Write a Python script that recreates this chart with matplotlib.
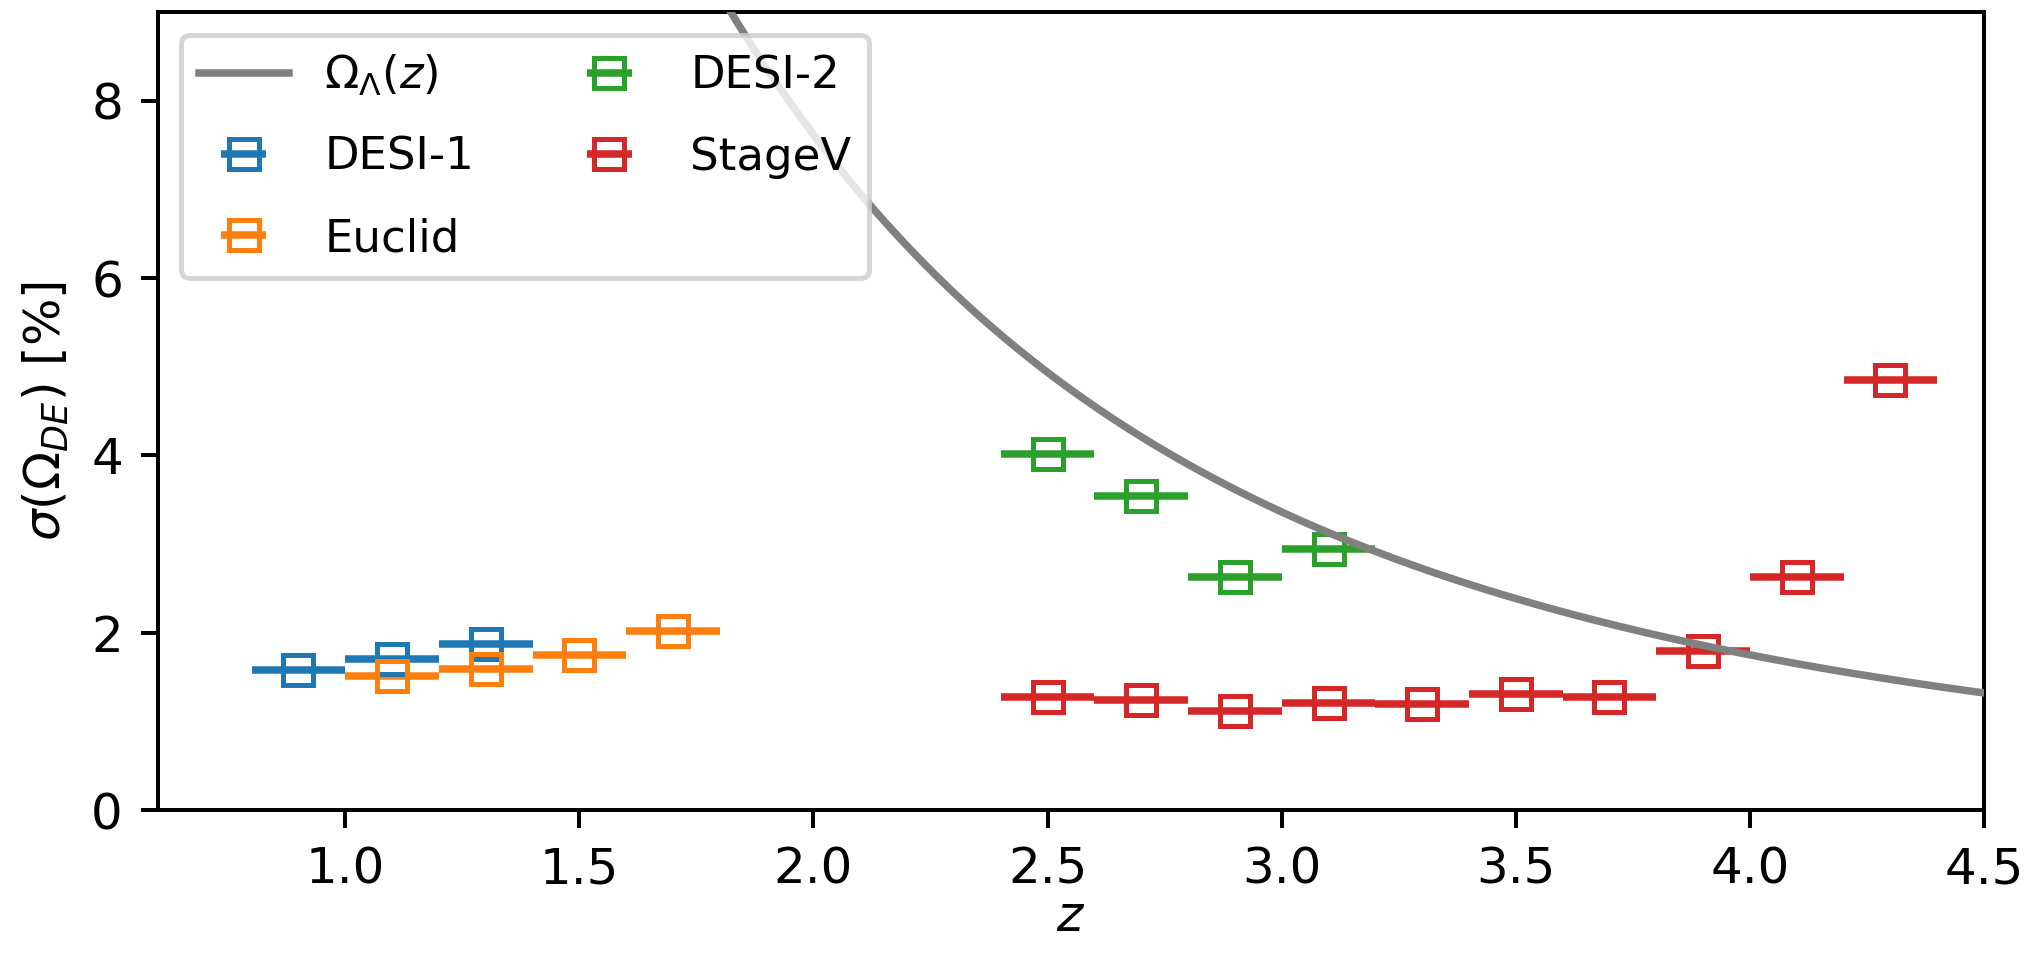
import numpy as np
import matplotlib
matplotlib.use("Agg")
import matplotlib.pyplot as plt

# ---- data ----
z_desi1 = [0.9, 1.1, 1.3]
s_desi1 = [1.58, 1.70, 1.87]

z_euclid = [1.1, 1.3, 1.5, 1.7]
s_euclid = [1.51, 1.59, 1.75, 2.02]

z_desi2 = [2.5, 2.7, 2.9, 3.1]
s_desi2 = [4.02, 3.54, 2.63, 2.94]

z_stage5 = [2.5, 2.7, 2.9, 3.1, 3.3, 3.5, 3.7, 3.9, 4.1, 4.3]
s_stage5 = [1.28, 1.24, 1.12, 1.21, 1.20, 1.31, 1.27, 1.79, 2.63, 4.85]

bin_halfwidth = 0.1

# Omega_Lambda(z) curve parameters (flat LCDM)
OMEGA_M = 0.31
OMEGA_L = 1.0 - OMEGA_M
z_curve = np.linspace(0.6, 4.5, 400)
omega_l_curve = 100.0 * OMEGA_L / (OMEGA_L + OMEGA_M * (1.0 + z_curve) ** 3)

# ---- figure ----
DPI = 360
fig = plt.figure(figsize=(2042 / DPI, 955 / DPI), dpi=DPI)
ax = fig.add_axes([158 / 2042, 1 - 810 / 955, (1984 - 158) / 2042, (810 - 12) / 955])

line, = ax.plot(z_curve, omega_l_curve, color="gray", lw=1.5, zorder=5,
                label=r"$\Omega_\Lambda(z)$")

common = dict(fmt="s", mfc="none", ms=6, capsize=0, lw=1.5)
e1 = ax.errorbar(z_desi1, s_desi1, xerr=bin_halfwidth, color="tab:blue", label="DESI-1", **common)
e2 = ax.errorbar(z_euclid, s_euclid, xerr=bin_halfwidth, color="tab:orange", label="Euclid", **common)
e3 = ax.errorbar(z_desi2, s_desi2, xerr=bin_halfwidth, color="tab:green", label="DESI-2", **common)
e4 = ax.errorbar(z_stage5, s_stage5, xerr=bin_halfwidth, color="tab:red", label="StageV", **common)

ax.set_xlim(0.6, 4.5)
ax.set_ylim(0, 9)
ax.set_xticks([1.0, 1.5, 2.0, 2.5, 3.0, 3.5, 4.0, 4.5])
ax.set_yticks([0, 2, 4, 6, 8])
ax.set_xlabel(r"$z$", labelpad=0)
ax.set_ylabel(r"$\sigma(\Omega_{DE})$ [%]")

ax.legend(handles=[line, e1, e2, e3, e4], ncol=2, loc="upper left", fontsize=9,
          labelspacing=0.85)

fig.savefig("out.png", dpi=DPI)
